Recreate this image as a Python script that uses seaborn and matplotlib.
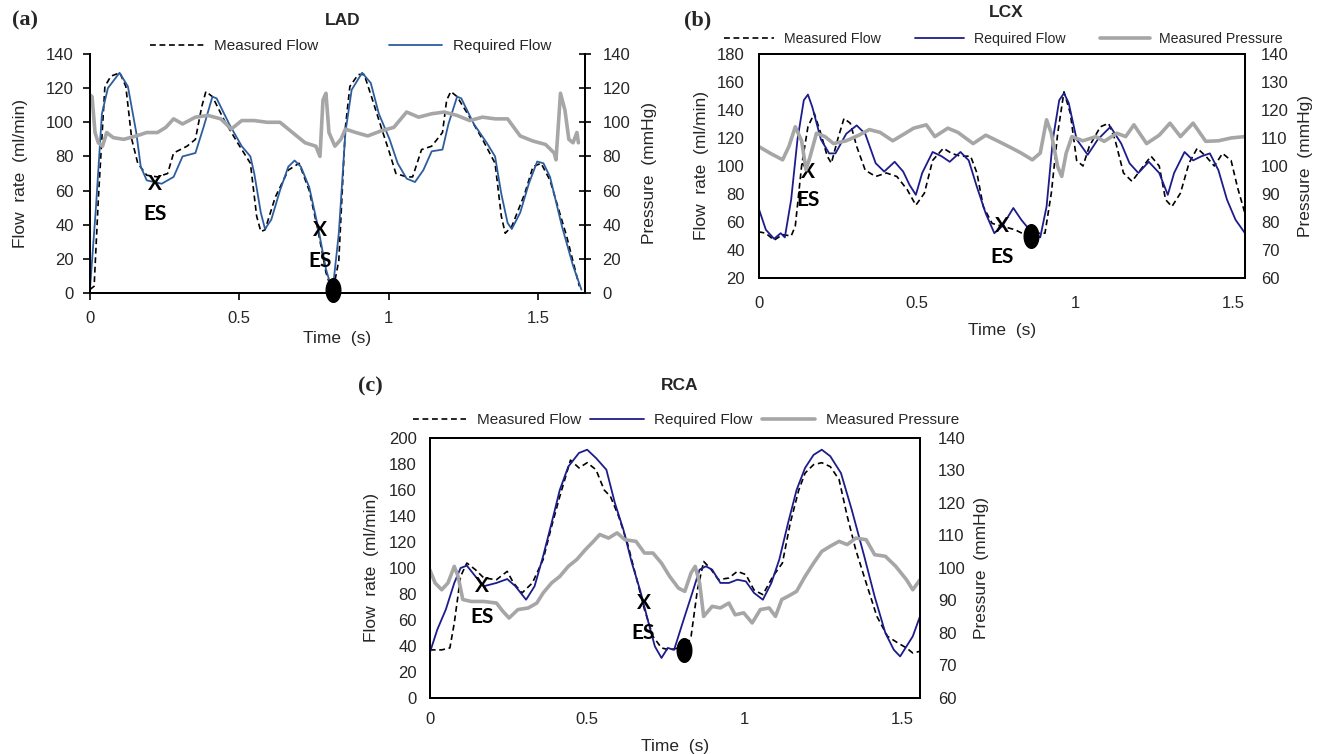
import numpy as np
import pandas as pd
import matplotlib
matplotlib.use("Agg")
import matplotlib.pyplot as plt
from matplotlib.path import Path
import seaborn as sns

# ---- values: (time s, value) ----
lad_measured = [(0, 2), (0.014, 4), (0.028, 55), (0.05, 121), (0.07, 127), (0.1, 129), (0.12, 121),
                (0.14, 90), (0.16, 76), (0.19, 69), (0.226, 68), (0.26, 70), (0.28, 82), (0.325, 86),
                (0.353, 90), (0.374, 109), (0.388, 118), (0.41, 115), (0.45, 101), (0.494, 88),
                (0.537, 76), (0.558, 45), (0.572, 36), (0.586, 37), (0.62, 56), (0.664, 72), (0.7, 76),
                (0.734, 60), (0.763, 37), (0.79, 12), (0.812, 0), (0.833, 19), (0.855, 97), (0.87, 121),
                (0.898, 128), (0.918, 128), (0.946, 113), (0.975, 97), (1.003, 82), (1.024, 70),
                (1.06, 68), (1.08, 68), (1.11, 84), (1.144, 86), (1.18, 94), (1.194, 113), (1.208, 118),
                (1.229, 115), (1.271, 103), (1.314, 90), (1.356, 76), (1.377, 45), (1.39, 35),
                (1.412, 39), (1.455, 58), (1.483, 74), (1.51, 76), (1.54, 66), (1.596, 33), (1.638, 4)]
lad_required = [(0, 2), (0.02, 50), (0.04, 105), (0.06, 120), (0.099, 129), (0.127, 121), (0.155, 94),
                (0.17, 74), (0.19, 66), (0.24, 64), (0.28, 68), (0.31, 80), (0.353, 82), (0.38, 97),
                (0.41, 115), (0.424, 114), (0.466, 99), (0.508, 86), (0.537, 80), (0.55, 70),
                (0.572, 47), (0.586, 37.5), (0.607, 43), (0.636, 60), (0.664, 74), (0.685, 77.6),
                (0.706, 74), (0.734, 62), (0.763, 39), (0.79, 14), (0.812, 1), (0.833, 35), (0.855, 94),
                (0.876, 119), (0.911, 129), (0.94, 123), (0.967, 105), (1.003, 90), (1.03, 76),
                (1.06, 67), (1.088, 65), (1.116, 72), (1.144, 83), (1.18, 84), (1.2, 99), (1.229, 115),
                (1.243, 114), (1.285, 99), (1.328, 88), (1.356, 80), (1.377, 58), (1.398, 41),
                (1.412, 37.5), (1.44, 47), (1.469, 64), (1.497, 77), (1.518, 76), (1.54, 68),
                (1.58, 39), (1.617, 16), (1.645, 2)]
lad_pressure = [(0, 116), (0.007, 115), (0.017, 94), (0.028, 88), (0.042, 86), (0.056, 94), (0.078, 91),
                (0.113, 90), (0.155, 92), (0.19, 94), (0.226, 94), (0.254, 97), (0.28, 102), (0.31, 99),
                (0.353, 103), (0.395, 104), (0.438, 102), (0.473, 96), (0.508, 101), (0.55, 101),
                (0.593, 100), (0.636, 100), (0.678, 94), (0.72, 88), (0.756, 86), (0.77, 80),
                (0.78, 113), (0.79, 117), (0.8, 94), (0.82, 86), (0.84, 90), (0.855, 96), (0.89, 94),
                (0.93, 92), (0.975, 95), (1.017, 97), (1.06, 106), (1.1, 103), (1.144, 105),
                (1.186, 106), (1.229, 104), (1.271, 101), (1.314, 103), (1.356, 102), (1.398, 102),
                (1.44, 92), (1.483, 89), (1.525, 87), (1.554, 82), (1.56, 78), (1.575, 117),
                (1.59, 107), (1.603, 90), (1.617, 88), (1.63, 94), (1.635, 88)]

lcx_measured = [(0, 53), (0.023, 52), (0.049, 47), (0.076, 51), (0.103, 50), (0.116, 57), (0.136, 100),
                (0.156, 128), (0.176, 137.7), (0.197, 123), (0.217, 107), (0.23, 102), (0.25, 119),
                (0.27, 134), (0.29, 130.5), (0.31, 114), (0.337, 97), (0.37, 92.5), (0.404, 95),
                (0.437, 92.5), (0.47, 83), (0.497, 72), (0.524, 80.6), (0.55, 104), (0.584, 112.7),
                (0.61, 109), (0.638, 107), (0.67, 107), (0.69, 95), (0.71, 71), (0.738, 59), (0.77, 57),
                (0.81, 54.5), (0.85, 50), (0.885, 52), (0.905, 52), (0.925, 80.6), (0.945, 123),
                (0.965, 153), (0.985, 137.7), (1.005, 104), (1.025, 100), (1.045, 114), (1.08, 128),
                (1.106, 130.5), (1.126, 119), (1.153, 95), (1.18, 89), (1.206, 97), (1.24, 107),
                (1.266, 100), (1.286, 76), (1.306, 71), (1.333, 80.6), (1.36, 102), (1.386, 112.7),
                (1.413, 107), (1.44, 100), (1.466, 109), (1.493, 104), (1.513, 85), (1.537, 66)]
lcx_required = [(0, 70), (0.023, 54.5), (0.049, 48), (0.07, 52), (0.083, 49), (0.103, 76), (0.123, 119),
                (0.143, 147), (0.156, 151), (0.17, 142), (0.197, 119), (0.223, 109), (0.243, 109),
                (0.277, 123), (0.31, 129), (0.337, 123), (0.37, 102), (0.397, 96), (0.43, 103),
                (0.457, 96), (0.477, 86.5), (0.497, 79.4), (0.517, 95), (0.55, 110), (0.578, 107),
                (0.604, 103), (0.638, 110), (0.664, 104), (0.69, 85), (0.718, 66), (0.745, 52),
                (0.77, 57), (0.805, 70), (0.83, 61.6), (0.865, 52), (0.89, 49), (0.91, 71), (0.93, 119),
                (0.95, 147), (0.965, 152), (0.98, 145), (1.005, 119), (1.04, 108), (1.072, 119),
                (1.112, 128), (1.146, 116), (1.172, 102), (1.2, 95), (1.233, 103), (1.266, 95),
                (1.293, 79.4), (1.313, 95), (1.346, 110), (1.373, 104), (1.4, 107), (1.426, 109),
                (1.453, 97), (1.48, 76), (1.507, 61.6), (1.537, 52)]
lcx_pressure = [(0, 107), (0.036, 104.6), (0.076, 102.2), (0.096, 107), (0.116, 114), (0.136, 109),
                (0.15, 98.6), (0.163, 103.4), (0.183, 111.7), (0.21, 110.5), (0.237, 108), (0.277, 109),
                (0.317, 111), (0.35, 113), (0.384, 112), (0.424, 109), (0.464, 111.7), (0.49, 113.5),
                (0.53, 114.7), (0.557, 110.5), (0.598, 113.5), (0.63, 112), (0.678, 108), (0.718, 111),
                (0.758, 108.8), (0.8, 106.4), (0.83, 104.6), (0.865, 102.2), (0.89, 104.6),
                (0.91, 116.5), (0.925, 111.7), (0.945, 99.8), (0.958, 96.3), (0.972, 104.6),
                (0.99, 110.5), (1.025, 109), (1.066, 110.5), (1.092, 108.8), (1.132, 111.7),
                (1.16, 110.5), (1.186, 114.7), (1.226, 108), (1.266, 111), (1.3, 115.3), (1.333, 110.5),
                (1.373, 115.3), (1.413, 108.8), (1.453, 109), (1.493, 110), (1.537, 110.5)]

rca_measured = [(0, 37), (0.038, 37), (0.064, 38.5), (0.078, 57.7), (0.098, 93.6), (0.118, 103.8),
                (0.145, 98.7), (0.172, 92.3), (0.212, 91), (0.246, 97.4), (0.266, 88.5), (0.293, 80.8),
                (0.326, 88.5), (0.36, 106.4), (0.387, 132), (0.413, 155), (0.447, 183), (0.474, 177),
                (0.5, 181), (0.528, 175.6), (0.554, 160), (0.574, 155), (0.6, 139.7), (0.628, 119),
                (0.655, 93.6), (0.682, 68), (0.709, 47.4), (0.736, 38.5), (0.762, 37), (0.79, 38.5),
                (0.81, 37), (0.83, 47.4), (0.85, 83), (0.87, 105), (0.89, 100), (0.917, 91),
                (0.95, 92.3), (0.977, 97.4), (1.004, 94.9), (1.03, 83), (1.058, 79.5), (1.09, 93.6),
                (1.12, 103.8), (1.145, 134.6), (1.172, 160), (1.192, 173), (1.219, 179.5),
                (1.245, 181), (1.272, 178), (1.3, 168), (1.326, 139.7), (1.353, 114), (1.386, 88.5),
                (1.42, 62.8), (1.454, 47.4), (1.487, 42.3), (1.514, 38.5), (1.534, 34.6), (1.557, 35.9)]
rca_required = [(0, 34.6), (0.024, 52.6), (0.051, 68), (0.078, 88.5), (0.098, 100), (0.118, 101.8),
                (0.145, 93.6), (0.172, 86), (0.212, 88.5), (0.246, 91.5), (0.272, 86), (0.306, 75.6),
                (0.333, 86), (0.36, 109), (0.387, 134.6), (0.413, 160), (0.44, 178), (0.474, 188.5),
                (0.5, 191), (0.528, 184.6), (0.561, 175.6), (0.588, 150), (0.615, 129.5),
                (0.642, 103.8), (0.668, 83), (0.695, 57.7), (0.715, 39.7), (0.736, 30.8),
                (0.756, 38.5), (0.776, 37), (0.803, 57.7), (0.83, 78), (0.857, 98.7), (0.877, 101.3),
                (0.897, 98.7), (0.923, 88.5), (0.95, 88.5), (0.977, 91), (1.004, 89.7), (1.03, 80.8),
                (1.058, 75.6), (1.085, 88.5), (1.11, 106.4), (1.138, 134.6), (1.165, 160),
                (1.192, 177), (1.219, 187), (1.245, 191), (1.272, 186), (1.306, 173), (1.34, 145),
                (1.38, 109), (1.413, 78), (1.447, 50), (1.474, 37), (1.494, 32), (1.514, 39.7),
                (1.534, 47.4), (1.557, 62.8)]
rca_pressure = [(0, 99.5), (0.017, 95.4), (0.038, 93.3), (0.058, 95.4), (0.078, 100.5), (0.09, 97.4),
                (0.105, 90.3), (0.132, 89.7), (0.172, 89.7), (0.212, 89.2), (0.232, 86.7),
                (0.252, 84.6), (0.28, 87.2), (0.313, 87.7), (0.34, 89.2), (0.36, 92.3), (0.387, 95.4),
                (0.413, 97.4), (0.44, 100.5), (0.467, 102.6), (0.494, 105.6), (0.52, 108.2),
                (0.54, 110.3), (0.568, 109.2), (0.595, 110.8), (0.62, 108.7), (0.655, 108.2),
                (0.682, 104.6), (0.709, 104.6), (0.736, 101.5), (0.762, 97.4), (0.79, 93.8),
                (0.81, 92.8), (0.83, 98.5), (0.843, 100.5), (0.857, 95.4), (0.87, 85.1), (0.897, 88.2),
                (0.923, 87.7), (0.95, 89.2), (0.97, 85.6), (0.997, 86.2), (1.024, 83.1), (1.05, 87.2),
                (1.078, 87.7), (1.098, 85.1), (1.118, 90.3), (1.138, 91.3), (1.165, 92.8),
                (1.192, 97.4), (1.219, 101.5), (1.245, 105.1), (1.272, 106.7), (1.3, 108.2),
                (1.326, 107.2), (1.353, 109.2), (1.386, 108.7), (1.413, 104.1), (1.447, 103.6),
                (1.48, 100.5), (1.514, 96.4), (1.534, 93.3), (1.557, 96.4)]

# end-systole marks: X position, ES label position, black dot
lad_es_x = [(0.219, 64), (0.77, 37)]
lad_es_txt = [(0.219, 46), (0.77, 19)]
lad_dot = (0.815, 2)
lcx_es_x = [(0.156, 96), (0.769, 57)]
lcx_es_txt = [(0.156, 76), (0.769, 35)]
lcx_dot = (0.862, 50)
rca_es_x = [(0.165, 86), (0.679, 73)]
rca_es_txt = [(0.165, 62), (0.679, 50)]
rca_dot = (0.809, 37)

time_ticks = [0, 0.5, 1, 1.5]
time_labels = ["0", "0.5", "1", "1.5"]

sns.set_theme(style="white")
plt.rcParams["font.family"] = ["Liberation Sans", "DejaVu Sans"]

GRAY = "#a6a6a6"
BLUE_A = "#2e5d9f"
NAVY = "#1c1c8c"

theta = np.linspace(0, 2 * np.pi, 60)
dot_marker = Path(np.column_stack([0.62 * np.cos(theta), np.sin(theta)]))

fig = plt.figure(figsize=(13.19, 7.54), dpi=100)


def frame(pairs):
    return pd.DataFrame(pairs, columns=["t", "v"])


def panel(rect, measured, required, pressure, blue, flim, fticks, plim, pticks, xmax,
          es_x, es_txt, dot, boxed, pads, labcoords):
    ax = fig.add_axes(rect)
    ax2 = ax.twinx()
    sns.lineplot(data=frame(pressure), x="t", y="v", ax=ax2, color=GRAY, lw=2.6,
                 sort=False, estimator=None, label="Measured Pressure")
    sns.lineplot(data=frame(measured), x="t", y="v", ax=ax, color="black", lw=1.2,
                 linestyle=(0, (3.5, 2.2)), sort=False, estimator=None, label="Measured Flow")
    sns.lineplot(data=frame(required), x="t", y="v", ax=ax, color=blue, lw=1.3,
                 sort=False, estimator=None, label="Required Flow")
    for a in (ax, ax2):
        if a.get_legend() is not None:
            a.get_legend().remove()
    ax.set_xlim(0, xmax)
    ax.set_ylim(*flim)
    ax2.set_ylim(*plim)
    ax.set_xticks(time_ticks, time_labels)
    ax.set_yticks(fticks)
    ax2.set_yticks(pticks)
    ax.set_xlabel("Time  (s)", fontsize=12.5)
    ax.set_ylabel("Flow  rate  (ml/min)", fontsize=12.5)
    ax2.set_ylabel("Pressure  (mmHg)", fontsize=12.5)
    ax.xaxis.set_label_coords(0.5, labcoords[0])
    ax.yaxis.set_label_coords(labcoords[1], 0.5)
    ax2.yaxis.set_label_coords(labcoords[2], 0.5)
    ax.grid(False)
    ax2.grid(False)

    for (x, y) in es_x:
        ax.text(x, y, "X", ha="center", va="center", fontsize=15, fontweight="bold",
                family=["Lato", "DejaVu Sans"], color="black", zorder=5)
    for (x, y) in es_txt:
        ax.text(x, y, "ES", ha="center", va="center", fontsize=15, fontweight="bold",
                family=["Lato", "DejaVu Sans"], color="black", zorder=5)
    ax.plot([dot[0]], [dot[1]], marker=dot_marker, ms=17, color="black", ls="none",
            clip_on=False, zorder=6)

    for a in (ax, ax2):
        for s in a.spines.values():
            s.set_color("black")
            s.set_linewidth(1.4)
    if boxed:
        ax.tick_params(axis="x", bottom=True, length=0, pad=pads[0], labelsize=12)
        ax.tick_params(axis="y", left=True, length=0, pad=pads[1], labelsize=12)
        ax2.tick_params(axis="y", right=True, length=0, pad=pads[2], labelsize=12)
    else:
        for a in (ax, ax2):
            a.spines["top"].set_visible(False)
        ax.tick_params(axis="x", bottom=True, direction="out", length=5, width=1.2,
                       color="black", pad=pads[0], labelsize=12)
        ax.tick_params(axis="y", left=True, direction="out", length=5, width=1.2,
                       color="black", pad=pads[1], labelsize=12)
        ax2.tick_params(axis="y", right=True, direction="inout", length=9, width=1.2,
                        color="black", pad=pads[2], labelsize=12)
    return ax, ax2


def flow_legend(ax, ax2, with_pressure, center, spacing, size):
    handles, labels = ax.get_legend_handles_labels()
    if with_pressure:
        h2, l2 = ax2.get_legend_handles_labels()
        handles += h2
        labels += l2
    fig.legend(handles, labels, loc="center", bbox_to_anchor=center, ncol=len(handles),
               frameon=False, fontsize=size, handlelength=3.5, handletextpad=0.7,
               columnspacing=spacing, borderaxespad=0, borderpad=0)


# (a) LAD
ax_a, ax_a2 = panel([0.0682, 0.6114, 0.3753, 0.3170], lad_measured, lad_required, lad_pressure,
                    BLUE_A, (0, 140), range(0, 141, 20), (0, 140), range(0, 141, 20), 1.657,
                    lad_es_x, lad_es_txt, lad_dot, False, (8, 6.5, 8), (-0.159, -0.125, 1.115))
flow_legend(ax_a, ax_a2, False, (0.266, 0.939), 4.6, 11)

# (b) LCX
ax_b, ax_b2 = panel([0.5751, 0.6313, 0.3688, 0.2971], lcx_measured, lcx_required, lcx_pressure,
                    NAVY, (20, 180), range(20, 181, 20), (60, 140), range(60, 141, 10), 1.537,
                    lcx_es_x, lcx_es_txt, lcx_dot, True, (13, 10, 11.5), (-0.201, -0.102, 1.109))
flow_legend(ax_b, ax_b2, True, (0.761, 0.948), 2.4, 10.2)

# (c) RCA
ax_c, ax_c2 = panel([0.3258, 0.0743, 0.3717, 0.3448], rca_measured, rca_required, rca_pressure,
                    NAVY, (0, 200), range(0, 201, 20), (60, 140), range(60, 141, 10), 1.557,
                    rca_es_x, rca_es_txt, rca_dot, True, (10, 9.4, 13), (-0.158, -0.104, 1.110))
flow_legend(ax_c, ax_c2, True, (0.520, 0.443), 0.6, 11)

# titles and panel letters
fig.text(0.260, 0.973, "LAD", ha="center", va="center", fontsize=12.5, fontweight="bold")
fig.text(0.763, 0.983, "LCX", ha="center", va="center", fontsize=12.5, fontweight="bold")
fig.text(0.5155, 0.489, "RCA", ha="center", va="center", fontsize=12.5, fontweight="bold")
for x, y, s in [(0.019, 0.973, "(a)"), (0.529, 0.973, "(b)"), (0.2805, 0.487, "(c)")]:
    fig.text(x, y, s, ha="center", va="center", fontsize=16, fontweight="bold",
             family=["Liberation Serif", "DejaVu Serif"])

fig.savefig("out.png", dpi=100)
plt.close(fig)
